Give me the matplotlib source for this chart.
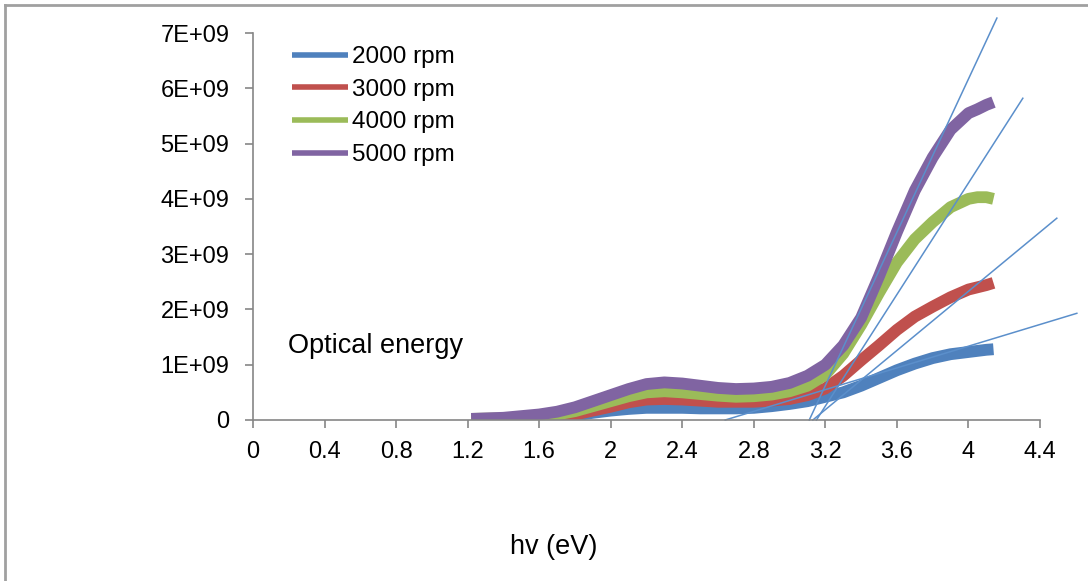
import numpy as np
import matplotlib.pyplot as plt
from matplotlib.lines import Line2D

plt.rcParams['font.family'] = ['Liberation Sans', 'DejaVu Sans']

# photon energy (eV)
hv = [1.22, 1.4, 1.6, 1.7, 1.8, 1.9, 2.0, 2.1, 2.2, 2.3, 2.4, 2.5, 2.6, 2.7, 2.8,
      2.9, 3.0, 3.1, 3.2, 3.3, 3.4, 3.5, 3.6, 3.7, 3.8, 3.9, 4.0, 4.05, 4.1, 4.14]

# (alpha*hv)^2 in units of 1E+09
rpm2000 = [0.0, 0.02, 0.04, 0.05, 0.08, 0.13, 0.17, 0.2, 0.22, 0.22, 0.22, 0.21, 0.21, 0.21, 0.22,
           0.25, 0.29, 0.34, 0.42, 0.5, 0.62, 0.76, 0.9, 1.02, 1.12, 1.19, 1.23, 1.25, 1.27, 1.28]
rpm3000 = [0.0, 0.02, 0.05, 0.06, 0.1, 0.17, 0.24, 0.32, 0.37, 0.38, 0.37, 0.35, 0.33, 0.33, 0.33,
           0.35, 0.38, 0.45, 0.57, 0.8, 1.08, 1.35, 1.63, 1.87, 2.05, 2.22, 2.36, 2.4, 2.44, 2.48]
rpm4000 = [0.02, 0.03, 0.06, 0.1, 0.16, 0.25, 0.34, 0.43, 0.5, 0.52, 0.5, 0.47, 0.44, 0.42, 0.43,
           0.46, 0.52, 0.62, 0.82, 1.2, 1.72, 2.3, 2.85, 3.27, 3.58, 3.85, 4.0, 4.03, 4.03, 4.0]
rpm5000 = [0.02, 0.04, 0.1, 0.15, 0.23, 0.34, 0.45, 0.56, 0.65, 0.68, 0.66, 0.62, 0.58, 0.56, 0.57,
           0.6, 0.67, 0.8, 1.0, 1.35, 1.85, 2.6, 3.4, 4.15, 4.75, 5.25, 5.55, 5.62, 5.7, 5.75]

labels = ['2000 rpm', '3000 rpm', '4000 rpm', '5000 rpm']
colors = ['#4F81BD', '#C0504D', '#9BBB59', '#8064A2']

# tangent lines (start x, end x, start y, end y) in eV and 1E+09
tan_x0 = [3.11, 3.15, 3.13, 2.64]
tan_x1 = [4.159, 4.304, 4.494, 4.606]
tan_y0 = [0.0, 0.0, 0.0, 0.0]
tan_y1 = [7.27, 5.82, 3.65, 1.93]

fig = plt.figure(figsize=(10.88, 5.81), dpi=100)
ax = fig.add_axes([253/1088, 1-420/581, (1040-253)/1088, (420-33)/581])

series = [rpm2000, rpm3000, rpm4000, rpm5000]
for s, lab, c in zip(series, labels, colors):
    ax.plot(hv, np.array(s)*1e9, color=c, lw=8.5, solid_capstyle='butt',
            solid_joinstyle='round', label=lab)

for i in range(len(tan_x0)):
    ax.plot([tan_x0[i], tan_x1[i]], [tan_y0[i]*1e9, tan_y1[i]*1e9],
            color='#5B8FCB', lw=1.1, clip_on=False)

ax.set_xlim(0, 4.4)
ax.set_ylim(0, 7e9)
ax.set_xticks(np.arange(0, 4.41, 0.4))
ax.set_xticklabels(['0', '0.4', '0.8', '1.2', '1.6', '2', '2.4', '2.8', '3.2', '3.6', '4', '4.4'])
ax.set_yticks(np.arange(0, 8e9, 1e9))
ax.set_yticklabels(['0'] + ['%dE+09' % k for k in range(1, 8)])

for sp in ['top', 'right']:
    ax.spines[sp].set_visible(False)
for sp in ['left', 'bottom']:
    ax.spines[sp].set_color('#868686')
    ax.spines[sp].set_linewidth(1.2)
ax.tick_params(axis='both', direction='out', length=6, width=1.2, color='#868686',
               labelsize=17, labelcolor='black')
ax.tick_params(axis='y', pad=11)
ax.tick_params(axis='x', pad=9)

leg = ax.legend(loc='upper left', bbox_to_anchor=(292/1088, 1-46/581),
                bbox_transform=fig.transFigure, frameon=False, fontsize=17.5,
                handlelength=2.3, handletextpad=0.15, labelspacing=0.44,
                borderpad=0, borderaxespad=0)
for h in leg.get_lines():
    h.set_linewidth(4)

fig.text(288/1088, 1-346/581, 'Optical energy', fontsize=19.5, va='center', ha='left')
fig.text(554/1088, 1-547/581, 'hv (eV)', fontsize=19.5, va='center', ha='center')

# outer chart border (top and left visible)
fig.add_artist(Line2D([5/1088, 1], [1-5/581, 1-5/581], color='#a0a0a0', lw=2))
fig.add_artist(Line2D([5/1088, 5/1088], [0, 1-5/581], color='#a0a0a0', lw=2))

fig.savefig('out.png', dpi=100)
